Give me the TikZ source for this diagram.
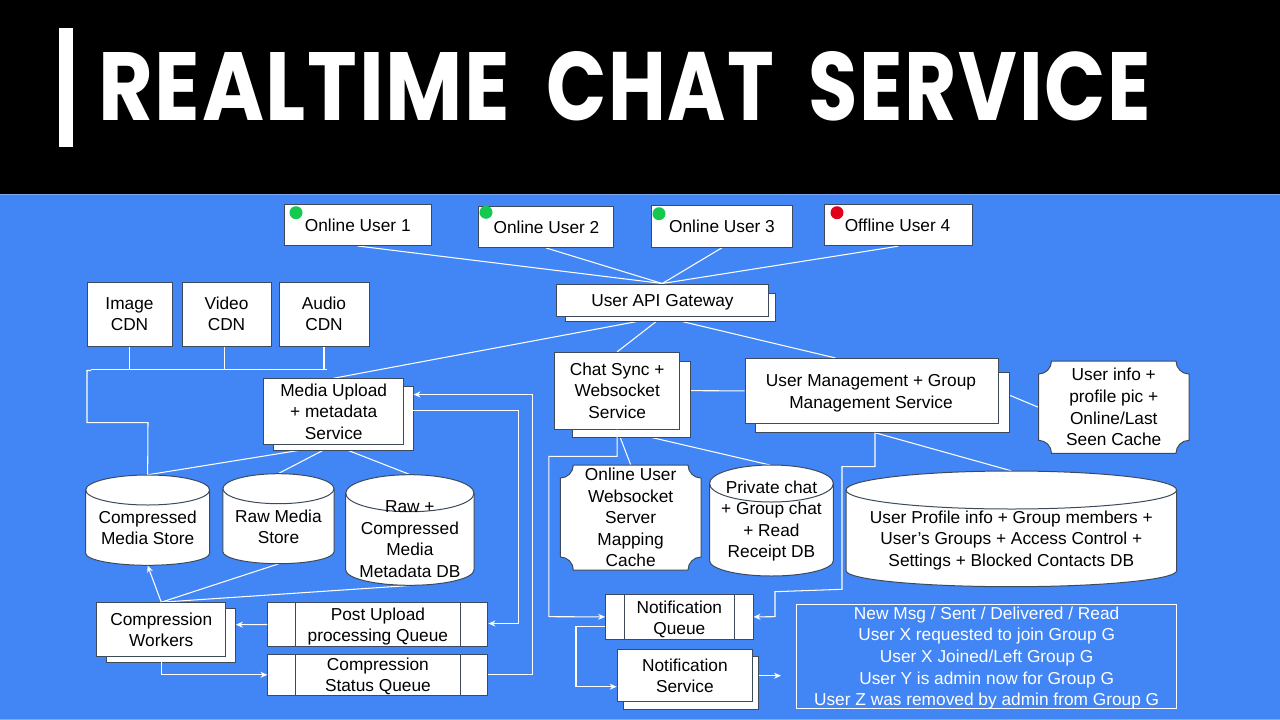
\documentclass[tikz,border=0pt]{standalone}
\usepackage{graphicx}
\usepackage{fontspec}
\setmainfont{Liberation Sans}
\newfontfamily\titlefont[LetterSpace=2]{Poppins Bold}
\usetikzlibrary{arrows.meta,calc}
\definecolor{bluebg}{HTML}{4285F4}
\definecolor{edgeg}{HTML}{3D4A5C}
\definecolor{dotgreen}{HTML}{14C850}
\definecolor{dotred}{HTML}{E0001A}
\definecolor{rimblue}{HTML}{7FA9F0}
\pgfdeclarelayer{bgl}
\pgfdeclarelayer{lines}
\pgfsetlayers{bgl,lines,main}
\tikzset{
  boxst/.style={draw=edgeg,fill=white,line width=1pt,inner sep=0pt,align=center,font=\fontsize{17.3}{21.6}\selectfont},
  txtst/.style={inner sep=0pt,align=center,font=\fontsize{17.3}{21.6}\selectfont},
  link/.style={draw=white,line width=1.05pt},
  arr/.style={link,-{Stealth[length=7pt,width=6pt]}},
  ondot/.style={fill=dotgreen,draw=none,circle,minimum size=13pt,inner sep=0pt},
  offdot/.style={fill=dotred,draw=none,circle,minimum size=13pt,inner sep=0pt}
}
% name, style, x1,y1,x2,y2, text
\newcommand\bx[7]{%
  \pgfmathsetmacro\bw{#5-#3}\pgfmathsetmacro\bh{#6-#4}%
  \node[boxst,#2,minimum width=\bw pt,minimum height=\bh pt] (#1) at ({(#3+#5)/2},{(#4+#6)/2}) {#7};}
% name, x1,y1,x2,y2, inner1, inner2, text centre y, text
\newcommand\qb[9]{%
  \bx{#1}{}{#2}{#3}{#4}{#5}{}%
  \draw[edgeg,line width=1pt] (#6,#3) -- (#6,#5) (#7,#3) -- (#7,#5);
  \node[txtst] (#1t) at ({(#2+#4)/2},#8) {#9};}
% name, x1,y1,x2,y2, ry, text centre y, text
\newcommand\cyl[8]{%
  \pgfmathsetmacro\rx{(#4-#2)/2}%
  \pgfmathsetmacro\ya{#3+#6}\pgfmathsetmacro\yb{#5-#6+3}%
  \draw[draw=edgeg,fill=white,line width=1pt] (#2,\ya) -- (#2,\yb) arc[start angle=180,end angle=0,x radius=\rx,y radius=#6-3] -- (#4,\ya) arc[start angle=0,end angle=-180,x radius=\rx,y radius=#6] -- cycle;
  \draw[draw=edgeg,line width=1pt] (#2,\ya) arc[start angle=180,end angle=0,x radius=\rx,y radius=#6];
  \pgfmathsetmacro\bw{#4-#2}\pgfmathsetmacro\bh{#5-#3}%
  \node[minimum width=\bw pt,minimum height=\bh pt,inner sep=0pt] (#1) at ({(#2+#4)/2},{(#3+#5)/2}) {};
  \node[txtst] (#1t) at ({(#2+#4)/2},#7) {#8};}
% name, x1,y1,x2,y2, r, text
\newcommand\plq[7]{%
  \pgfmathsetmacro\xa{#2+#6}\pgfmathsetmacro\xb{#4-#6}\pgfmathsetmacro\ya{#3+#6}\pgfmathsetmacro\yb{#5-#6}%
  \pgfmathsetmacro\ka{0.55*#6}%
  \draw[draw=edgeg,fill=white,line width=1pt] (\xa,#3) -- (\xb,#3)
     .. controls (\xb,#3+\ka) and (#4-\ka,\ya) .. (#4,\ya) -- (#4,\yb)
     .. controls (#4-\ka,\yb) and (\xb,#5-\ka) .. (\xb,#5) -- (\xa,#5)
     .. controls (\xa,#5-\ka) and (#2+\ka,\yb) .. (#2,\yb) -- (#2,\ya)
     .. controls (#2+\ka,\ya) and (\xa,#3+\ka) .. (\xa,#3) -- cycle;
  \pgfmathsetmacro\bw{#4-#2}\pgfmathsetmacro\bh{#5-#3}%
  \node[txtst,minimum width=\bw pt,minimum height=\bh pt] (#1) at ({(#2+#4)/2},{(#3+#5)/2}) {#7};}
\begin{document}
\begin{tikzpicture}[x=1pt,y=-1pt]
\useasboundingbox (0,0) rectangle (1280,720);
\begin{pgfonlayer}{bgl}
\fill[black] (0,0) rectangle (1280,194);
\fill[rimblue] (0,194) rectangle (1280,195);
\fill[bluebg] (0,195) rectangle (1280,719);
\fill[rimblue] (0,719) rectangle (1280,720);
\end{pgfonlayer}
\fill[white] (59,28) rectangle (72.5,146.7);
\node[inner sep=0pt,anchor=base west,text=white,font=\titlefont\fontsize{97}{97}\selectfont] (title) at (98,120.3) {\resizebox{412pt}{68pt}{REALTIME}\hspace{36pt}\resizebox{228pt}{69pt}{CHAT}\hspace{34.6pt}\resizebox{342pt}{69pt}{SERVICE}};

% boxes
\bx{u1}{}{284.5}{204}{431}{245.5}{}
\bx{u2}{}{478.7}{206}{613.8}{247.5}{}
\bx{u3}{}{651.8}{205.7}{792}{247.3}{}
\bx{u4}{}{824.4}{204.3}{972}{245.7}{}
\node[txtst] (u1t) at (357.8,225) {Online User 1};
\node[txtst] (u2t) at (546.5,227) {Online User 2};
\node[txtst] (u3t) at (722,226) {Online User 3};
\node[txtst] (u4t) at (897.5,225) {Offline User 4};
\node[ondot] (d1) at (296,212.7) {};
\node[ondot] (d2) at (486,212.3) {};
\node[ondot] (d3) at (659,213.7) {};
\node[offdot] (d4) at (837,212.7) {};

\bx{gwb}{}{565.5}{293.3}{775}{321.7}{}
\bx{gw}{}{556}{284}{768.5}{316.3}{}
\node[txtst] (gwt) at (662.5,302) {User API Gateway};
\bx{chatb}{}{572.7}{361}{690}{437.7}{}
\bx{chat}{}{554.8}{352.3}{679.6}{429}{Chat Sync +\\Websocket\\Service}
\bx{mgmtb}{}{755}{372.7}{1009}{432.7}{}
\bx{mgmt}{}{745}{358}{998.8}{423.7}{}
\node[txtst] (mgmtt) at (871,393) {User Management + Group\\Management Service};
\plq{ucache}{1038.5}{361}{1189}{453.3}{13}{User info +\\profile pic +\\Online/Last\\Seen Cache}

\bx{img}{}{87}{282}{172}{346}{Image\\CDN}
\bx{vid}{}{182}{282}{271}{346}{Video\\CDN}
\bx{aud}{}{279}{282}{369}{346}{Audio\\CDN}

\bx{mediab}{}{273.8}{386}{413}{450}{}
\bx{media}{}{263.8}{378.7}{403.6}{444.3}{Media Upload\\+ metadata\\Service}

\cyl{cms}{85.7}{475}{209.6}{565.3}{15}{528}{Compressed\\Media Store}
\cyl{rms}{222.9}{473.7}{334}{563.7}{15}{526.7}{Raw Media\\Store}
\cyl{mdb}{345.7}{474.7}{474}{585.3}{18.5}{539.3}{Raw +\\Compressed\\Media\\Metadata DB}

\bx{cwb}{}{106.4}{608}{235.4}{662}{}
\bx{cw}{}{96.8}{602.7}{225.7}{656.7}{Compression\\Workers}
\qb{puq}{267.9}{602.7}{487.9}{646.3}{295.4}{460.7}{626.5}{Post Upload\\processing Queue}
\qb{csq}{267.9}{654.3}{487.9}{695.3}{295.4}{460.7}{676.5}{Compression\\Status Queue}

\plq{wcache}{560.3}{465}{701}{570}{13}{Online User\\Websocket\\Server\\Mapping\\Cache}
\cyl{pdb}{709.5}{465}{833.4}{576}{18.5}{521}{Private chat\\+ Group chat\\+ Read\\Receipt DB}
\cyl{udb}{846}{471}{1176.6}{586.7}{19}{540.5}{User Profile info + Group members +\\User's Groups + Access Control +\\Settings + Blocked Contacts DB}

\qb{nq}{605.6}{594.7}{753}{639}{624}{734.3}{619.5}{Notification\\Queue}
\bx{nsb}{}{623.6}{656.7}{758.2}{709}{}
\bx{ns}{}{617.2}{649.7}{752.6}{701.7}{Notification\\Service}

\node[draw=white,line width=1pt,minimum width=379.9pt,minimum height=104.7pt,inner sep=0pt] (evt) at (986.65,656.35) {};
\node[text=white,txtst] (evtt) at (986.65,658) {New Msg / Sent / Delivered / Read\\User X requested to join Group G\\User X Joined/Left Group G\\User Y is admin now for Group G\\User Z was removed by admin from Group G};

% free ends of connectors
\coordinate (busL) at (91,369.5);
\coordinate (busR) at (327,369.5);
\coordinate (mgmtIn) at (835.6,358);
\coordinate (mgmtOut) at (875,432.7);
\coordinate (mgmtE) at (1009,395);
\coordinate (pdbIn) at (770,465);
\coordinate (cacheL) at (1038.5,407.3);
\coordinate (vidOut) at (224.5,346);

\begin{pgfonlayer}{lines}
\draw[link] (u1.south) -- (gw.north);
\draw[link] (u2.south) -- (gw.north);
\draw[link] (u3.south) -- (gw.north);
\draw[link] (u4.south) -- (gw.north);
\draw[link] (gw.south) -- (media.north);
\draw[link] (gw.south) -- (chat.north);
\draw[link] (gw.south) -- (mgmtIn);
\draw[link] (img.south) -- (img.south|-busL);
\draw[link] (vidOut) -- (vidOut|-busL);
\draw[link] (aud.south) -- (aud.south|-busL);
\draw[link] (busL) -- (busR);
\draw[link] (91,370.5) -- (87,370.5) -- (87,422.7) -- (148,422.7) -- (cms.north);
\draw[link] (media.south) -- (cms.north);
\draw[link] (media.south) -- (rms.north);
\draw[link] (media.south) -- (mdb.north);
\draw[link] (cw.north) -- (rms.south);
\draw[link] (cw.north) -- (mdb.south);
\draw[link] (chat.south) -- (wcache.north);
\draw[link] (chat.south) -- (pdbIn);
\draw[link] (chat.east) -- (mgmt.west);
\draw[link] (mgmtE) -- (cacheL);
\draw[link] (mgmtOut) -- (udb.north);
\end{pgfonlayer}

% arrows and elbow connectors (in front)
\draw[arr] (media.east|-0,410.5) -- (518.5,410.5) -- (518.5,623.5) -- (puq.east|-0,623.5);
\draw[arr] (csq.east) -- (532.5,674.8) -- (532.5,394.5) -- (mediab.east|-0,394.5);
\draw[arr] (puq.west) -- (cwb.east|-0,624.7);
\draw[arr] (cw.south) -- (cw.south|-csq.west) -- (csq.west);
\draw[arr] (cw.north) -- (cms.south);
\draw[arr] (chat.south) -- (chat.south|-0,456.4) -- (548.8,456.4) -- (548.8,616.7) -- (nq.west);
\draw[arr] (mgmtOut) -- (875,466.7) -- (842,466.7) -- (842,589.3) -- (775,591.7) -- (775,616.7) -- (nq.east);
\draw[arr] (nq.west|-0,626.7) -- (576,626.7) -- (576,686.7) -- (ns.west|-0,686.7);
\draw[arr] (nsb.east|-0,675.7) -- (781,675.7);
\end{tikzpicture}
\end{document}
